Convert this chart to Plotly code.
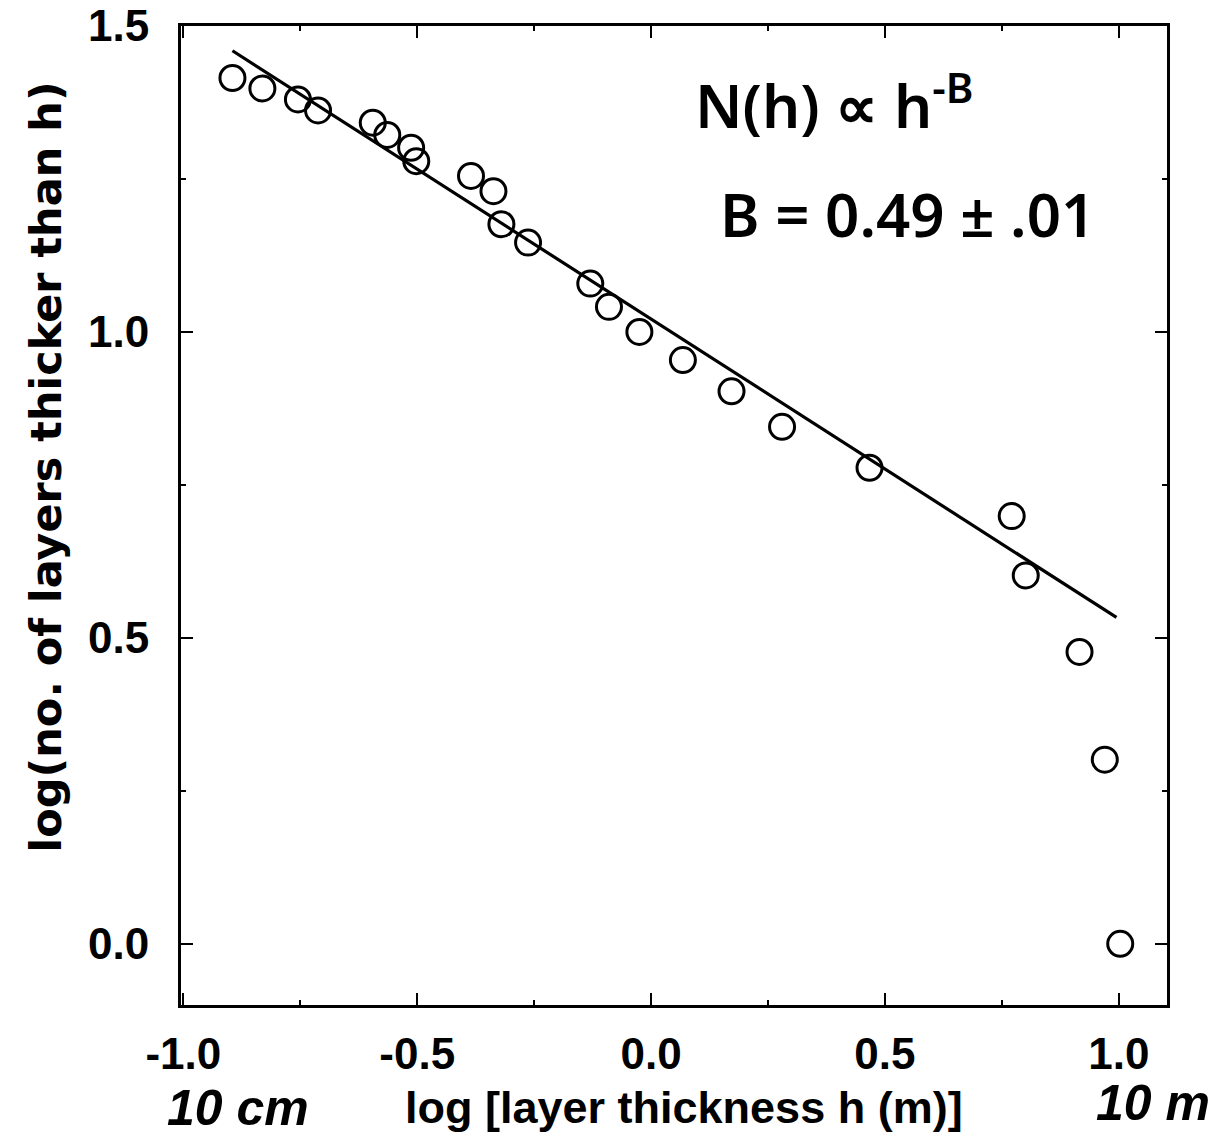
import plotly.graph_objects as go

# log10 of layer thickness h (m) and log10 of the number of layers thicker than h
log_thickness = [-0.895, -0.831, -0.755, -0.712, -0.595, -0.564, -0.513, -0.502,
                 -0.385, -0.337, -0.320, -0.263, -0.130, -0.090, -0.025, 0.068,
                 0.172, 0.280, 0.467, 0.771, 0.801, 0.916, 0.970, 1.003]
log_count = [1.415, 1.398, 1.380, 1.362, 1.342, 1.322, 1.301, 1.279,
             1.255, 1.230, 1.176, 1.146, 1.079, 1.041, 1.000, 0.954,
             0.903, 0.845, 0.778, 0.699, 0.602, 0.477, 0.301, 0.000]

# power-law fit N(h) ~ h^-B, drawn as a straight line in log-log space
fit_B = 0.49
fit_intercept = 1.021
fit_x = [-0.895, 0.995]
fit_y = [fit_intercept - fit_B * x for x in fit_x]

x_tickvals = [-1.0, -0.5, 0.0, 0.5, 1.0]
x_ticktext = ["-1.0", "-0.5", "0.0", "0.5", "1.0"]
y_tickvals = [0.0, 0.5, 1.0, 1.5]
y_ticktext = ["0.0", "0.5", "1.0", "1.5"]

LABEL_FONT = dict(family="Liberation Sans", size=44, color="black", weight="bold")
XTITLE_FONT = dict(family="Liberation Sans", size=45, color="black", weight="bold")
YTITLE_FONT = dict(family="DejaVu Sans", size=43, color="black", weight="bold")
HAND_FONT = dict(family="Liberation Sans", size=50, color="black", weight="bold", style="italic")
NOTE_FONT = dict(family="Noto Sans", size=60, color="black", weight=600)

fig = go.Figure()

fig.add_trace(go.Scatter(
    x=fit_x, y=fit_y, mode="lines",
    line=dict(color="black", width=3.2),
    showlegend=False, hoverinfo="skip",
))

fig.add_trace(go.Scatter(
    x=log_thickness, y=log_count, mode="markers",
    marker=dict(symbol="circle-open", size=25, color="black", line=dict(width=3, color="black")),
    showlegend=False,
))

axis_common = dict(
    showline=True, linecolor="black", linewidth=3, mirror="ticks",
    ticks="inside", ticklen=12, tickwidth=2, tickcolor="black",
    showgrid=False, zeroline=False, automargin=False,
    minor=dict(ticks="inside", ticklen=5, tickwidth=2, tickcolor="black", dtick=0.25, showgrid=False),
    tickfont=LABEL_FONT, ticklabeloverflow="allow",
)

fig.update_xaxes(
    range=[-1.005, 1.103], tickvals=x_tickvals, ticktext=x_ticktext,
    ticklabelstandoff=8,
    **axis_common,
)
fig.update_yaxes(
    range=[-0.1, 1.5], tickvals=y_tickvals, ticktext=y_ticktext,
    ticklabelstandoff=20,
    **axis_common,
)

# axis titles
fig.add_annotation(x=0.510, y=-0.1045, xref="paper", yref="paper",
                   text="log [layer thickness h (m)]", showarrow=False,
                   font=XTITLE_FONT, xanchor="center", yanchor="middle")
fig.add_annotation(x=-0.137, y=0.55, xref="paper", yref="paper",
                   text="log(no. of layers thicker than h)", showarrow=False,
                   font=YTITLE_FONT, textangle=-90, xanchor="center", yanchor="middle")

# scale notes under the x axis ends
fig.add_annotation(x=0.058, y=-0.105, xref="paper", yref="paper", text="10 cm",
                   showarrow=False, font=HAND_FONT, xanchor="center", yanchor="middle")
fig.add_annotation(x=0.986, y=-0.1, xref="paper", yref="paper", text="10 m",
                   showarrow=False, font=HAND_FONT, xanchor="center", yanchor="middle")

# power-law notes
fig.add_annotation(x=0.519, y=0.922, xref="paper", yref="paper", text="N(h) ∝ h<sup>-B</sup>",
                   showarrow=False, font=NOTE_FONT, xanchor="left", yanchor="middle")
fig.add_annotation(x=0.545, y=0.808, xref="paper", yref="paper", text="B = 0.49 ± .01",
                   showarrow=False, font=NOTE_FONT, xanchor="left", yanchor="middle")

fig.update_layout(
    width=1221, height=1135,
    margin=dict(l=181, r=54, t=26, b=130),
    paper_bgcolor="white", plot_bgcolor="white",
)

fig.write_html("out.html")
